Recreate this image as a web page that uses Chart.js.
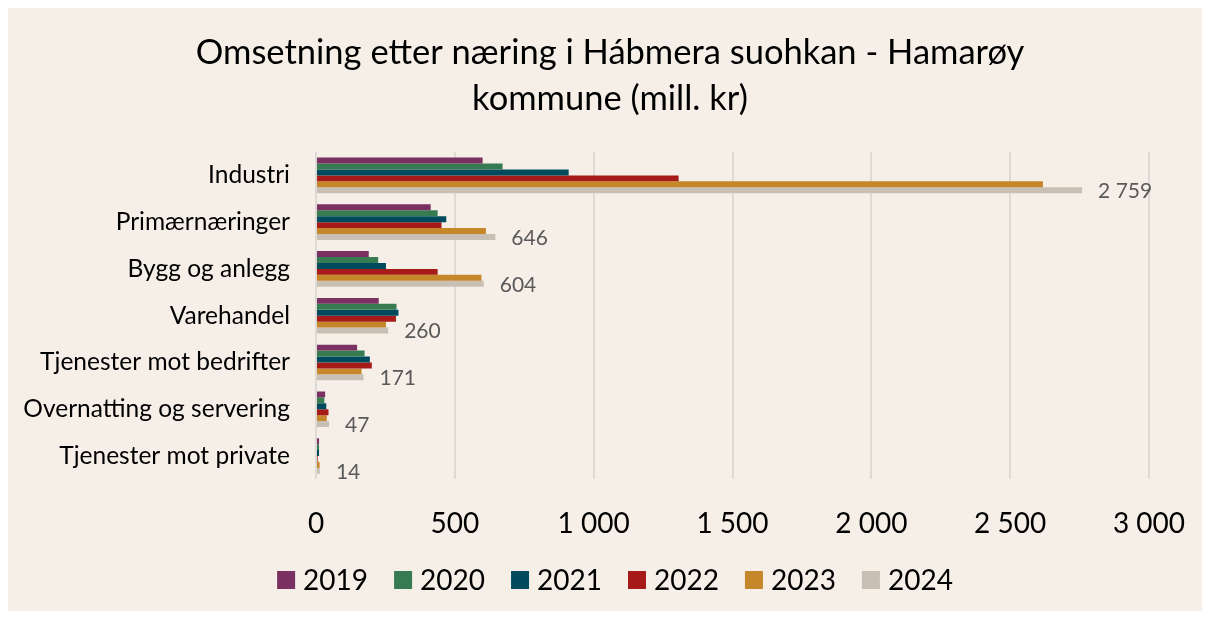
<!DOCTYPE html>
<html>
<head>
<meta charset="utf-8">
<script src="https://cdn.jsdelivr.net/npm/chart.js@4.4.0/dist/chart.umd.min.js"></script>
<style>
  html, body { margin: 0; padding: 0; background: #ffffff; }
  #wrap { position: absolute; left: 8px; top: 8px; width: 1194px; height: 603px; background: #F5EFE8; }
  canvas { display: block; }
</style>
</head>
<body>
<div id="wrap"><canvas id="c" width="1194" height="603"></canvas></div>
<script>
const categories = ["Industri", "Primærnæringer", "Bygg og anlegg", "Varehandel", "Tjenester mot bedrifter", "Overnatting og servering", "Tjenester mot private"];
const years = ["2019", "2020", "2021", "2022", "2023", "2024"];
const values2019 = [600, 413, 190, 226, 148, 33, 11];
const values2020 = [672, 438, 224, 290, 175, 30, 11];
const values2021 = [910, 469, 252, 297, 194, 37, 11];
const values2022 = [1306, 452, 438, 288, 201, 45, 6];
const values2023 = [2618, 612, 596, 252, 164, 39, 13];
const values2024 = [2759, 646, 604, 260, 171, 47, 14];
const xTicks = [0, 500, 1000, 1500, 2000, 2500, 3000];
const titleLines = ["Omsetning etter næring i Hábmera suohkan - Hamarøy", "kommune (mill. kr)"];
const colors = ["#7A3060", "#367B52", "#004A5E", "#A61B18", "#C6872B", "#C8BFB5"];
const seriesValues = [values2019, values2020, values2021, values2022, values2023, values2024];

function fmt(v) {
  return String(Math.round(v)).replace(/\B(?=(\d{3})+(?!\d))/g, " ");
}

const FONT = "Lato, 'Open Sans', sans-serif";

const labelPlugin = {
  id: "lastLabels",
  afterDatasetsDraw(chart) {
    const ctx = chart.ctx;
    const idx = chart.data.datasets.length - 1;
    const meta = chart.getDatasetMeta(idx);
    ctx.save();
    ctx.font = "21px " + FONT;
    ctx.fillStyle = "#595959";
    ctx.textAlign = "left";
    ctx.textBaseline = "middle";
    meta.data.forEach((el, i) => {
      const v = chart.data.datasets[idx].data[i];
      ctx.fillText(fmt(v), el.x + 16, el.y + 1);
    });
    ctx.restore();
  }
};

// Title drawn centred on the full chart box
const titlePlugin = {
  id: "centredTitle",
  afterDraw(chart) {
    const ctx = chart.ctx;
    ctx.save();
    ctx.font = "34.5px " + FONT;
    ctx.fillStyle = "#000000";
    ctx.textAlign = "center";
    ctx.textBaseline = "alphabetic";
    ctx.fillText(titleLines[0], 602, 56);
    ctx.fillText(titleLines[1], 602, 102);
    ctx.restore();
  }
};

// Legend drawn on the canvas with Excel-like spacing (box, small gap, text)
const legendPlugin = {
  id: "bottomLegend",
  afterDraw(chart) {
    const ctx = chart.ctx;
    const ds = chart.data.datasets;
    const box = 18, gap = 8, itemGap = 26;
    ctx.save();
    ctx.font = "28px " + FONT;
    ctx.textBaseline = "middle";
    ctx.textAlign = "left";
    const widths = ds.map(d => box + gap + ctx.measureText(d.label).width);
    const total = widths.reduce((a, b) => a + b, 0) + itemGap * (ds.length - 1);
    let x = 607 - total / 2;
    const y = 572;
    ds.forEach((d, i) => {
      ctx.fillStyle = d.backgroundColor;
      ctx.fillRect(x, y - box / 2, box, box);
      ctx.fillStyle = "#000000";
      ctx.fillText(d.label, x + box + gap, y + 1);
      x += widths[i] + itemGap;
    });
    ctx.restore();
  }
};

new Chart(document.getElementById("c"), {
  type: "bar",
  data: {
    labels: categories,
    datasets: years.map((y, i) => ({
      label: y,
      data: seriesValues[i],
      backgroundColor: colors[i],
      borderWidth: 0,
      categoryPercentage: 0.762,
      barPercentage: 1.0
    }))
  },
  options: {
    indexAxis: "y",
    responsive: false,
    animation: false,
    layout: { padding: { left: 0, right: 53, top: 144, bottom: 42 } },
    plugins: {
      title: { display: false },
      legend: { display: false },
      tooltip: { enabled: false }
    },
    scales: {
      x: {
        min: 0,
        max: 3000,
        afterBuildTicks(scale) { scale.ticks = xTicks.map(v => ({ value: v })); },
        afterFit(scale) { scale.paddingLeft = 0; scale.paddingRight = 0; },
        ticks: {
          color: "#000000",
          font: { family: FONT, size: 28 },
          padding: 28,
          maxRotation: 0,
          callback: (v) => fmt(v)
        },
        grid: { color: "#DDDAD6", lineWidth: 2, drawTicks: false },
        border: { display: false }
      },
      y: {
        afterFit(scale) { scale.width = 308; },
        ticks: {
          color: "#000000",
          font: { family: FONT, size: 24.5 },
          padding: 26
        },
        grid: { display: false, drawTicks: false },
        border: { display: false }
      }
    }
  },
  plugins: [labelPlugin, titlePlugin, legendPlugin]
});
</script>
</body>
</html>
